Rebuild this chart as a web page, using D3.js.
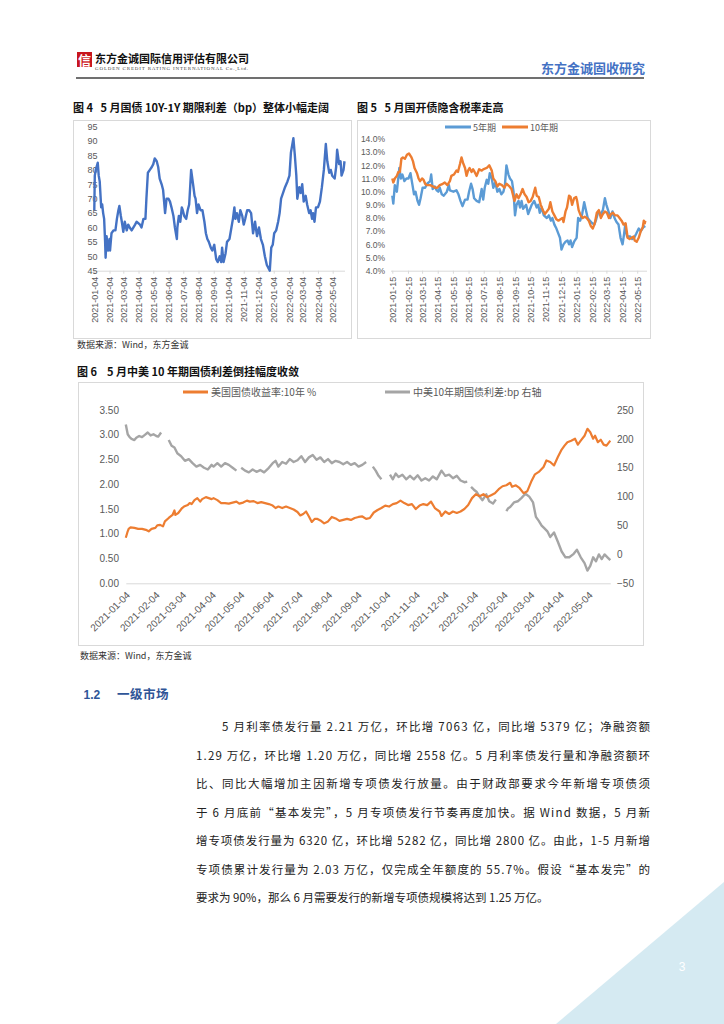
<!DOCTYPE html>
<html>
<head>
<meta charset="utf-8">
<script src="https://cdn.jsdelivr.net/npm/d3@7"></script>
<style>
body { margin: 0; background: #fff; }
text { font-family: "Liberation Sans", Arial, sans-serif; }
.cjk { font-family: "Noto Sans CJK SC", sans-serif; }
</style>
</head>
<body>
<div id="page"></div>
<script>
// ---- 图4 10Y-1Y 期限利差 (bp)
var termDates = ["2021-01-04","2021-01-05","2021-01-07","2021-01-11","2021-01-13","2021-01-15","2021-01-18","2021-01-20","2021-01-22","2021-01-24","2021-01-26","2021-01-27","2021-01-29",
  "2021-02-01","2021-02-04","2021-02-05","2021-02-08","2021-02-12","2021-02-16","2021-02-19","2021-02-22","2021-02-24","2021-02-27",
  "2021-03-01","2021-03-04","2021-03-07","2021-03-11","2021-03-14","2021-03-17","2021-03-21","2021-03-28","2021-03-31",
  "2021-04-07","2021-04-10","2021-04-14","2021-04-18","2021-04-20","2021-04-23","2021-04-27",
  "2021-05-01","2021-05-04","2021-05-07","2021-05-11","2021-05-14","2021-05-17","2021-05-21","2021-05-24","2021-05-28","2021-05-31",
  "2021-06-04","2021-06-07","2021-06-10","2021-06-14","2021-06-17","2021-06-21","2021-06-22","2021-06-25","2021-06-28",
  "2021-07-01","2021-07-03","2021-07-06","2021-07-10","2021-07-13","2021-07-16","2021-07-20","2021-07-24","2021-07-27","2021-07-29",
  "2021-08-01","2021-08-04","2021-08-08","2021-08-12","2021-08-16","2021-08-19","2021-08-22","2021-08-25","2021-08-29",
  "2021-09-01","2021-09-05","2021-09-09","2021-09-12","2021-09-16","2021-09-19","2021-09-21","2021-09-24","2021-09-28",
  "2021-10-01","2021-10-06","2021-10-10","2021-10-13","2021-10-16","2021-10-18","2021-10-21","2021-10-25","2021-10-28",
  "2021-11-01","2021-11-04","2021-11-07","2021-11-11","2021-11-15","2021-11-19","2021-11-23","2021-11-27",
  "2021-12-01","2021-12-05","2021-12-09","2021-12-13","2021-12-17","2021-12-21","2021-12-27","2021-12-30",
  "2022-01-02","2022-01-05","2022-01-09","2022-01-13","2022-01-16","2022-01-19","2022-01-23","2022-01-27",
  "2022-02-01","2022-02-05","2022-02-08","2022-02-13","2022-02-16","2022-02-19","2022-02-21","2022-02-25","2022-02-28",
  "2022-03-03","2022-03-06","2022-03-10","2022-03-13","2022-03-17","2022-03-20","2022-03-23","2022-03-25","2022-03-28","2022-03-31",
  "2022-04-04","2022-04-08","2022-04-12","2022-04-16","2022-04-20","2022-04-23","2022-04-27","2022-04-30",
  "2022-05-03","2022-05-08","2022-05-11","2022-05-13","2022-05-17","2022-05-20","2022-05-22","2022-05-26","2022-05-28"];
var termSpread = [66,78,80,82.5,78,76,67,68,65,63,55,49.5,57,
  52,56,52,58,59,59,63,66,67.5,64,
  62,58.5,62,59,61,60,59,61,62,
  61,60,63,63,70,79,80,
  81,82,84,83,81,77,75,73,65,70,
  70,69,67,64,60,56,60,64,62,
  67,66,64,63,66,68,80,75,71,70,
  65,68,66,66,62,58,56,55,53,
  52,54,49,48,50,48,53,48,51,
  55,56,60,63,67,63,65,62,66,
  64,61,63,66,66,65,58,62,
  57,60,56,54,50,47,45,53,
  54,58,59,62,65,70,72,74,
  76,78,86,91,85,78,70,74,72,
  75,69,71,68,65,66,63,65,62,67,
  67,69,74,80,89,83,79,80,
  78,77,81,87,82,83,78,80,83];
var termTicks = [45,50,55,60,65,70,75,80,85,90,95];

// ---- 图5 国开债隐含税率 (%)
var tax5Dates = ["2021-01-15","2021-01-17","2021-01-20","2021-01-24","2021-01-29","2021-02-01","2021-02-04","2021-02-08","2021-02-12","2021-02-16","2021-02-20","2021-02-24","2021-02-27",
  "2021-03-02","2021-03-06","2021-03-09","2021-03-12","2021-03-16","2021-03-21","2021-03-25","2021-03-31","2021-04-02","2021-04-05","2021-04-09","2021-04-13","2021-04-16","2021-04-19","2021-04-23","2021-04-27",
  "2021-05-03","2021-05-07","2021-05-09","2021-05-16","2021-05-22","2021-05-26","2021-05-30","2021-06-03","2021-06-08","2021-06-13","2021-06-16","2021-06-20","2021-06-23","2021-06-26",
  "2021-07-01","2021-07-06","2021-07-11","2021-07-14","2021-07-17","2021-07-21","2021-07-24","2021-07-27","2021-07-31","2021-08-03","2021-08-07","2021-08-11","2021-08-15","2021-08-19","2021-08-23","2021-08-26","2021-08-29",
  "2021-09-02","2021-09-05","2021-09-09","2021-09-12","2021-09-15","2021-09-18","2021-09-22","2021-09-25","2021-09-28","2021-10-01","2021-10-07","2021-10-11","2021-10-15","2021-10-18","2021-10-23","2021-10-28","2021-10-31",
  "2021-11-03","2021-11-07","2021-11-11","2021-11-17","2021-11-21","2021-11-25","2021-11-28","2021-12-02","2021-12-06","2021-12-10","2021-12-13","2021-12-16","2021-12-20","2021-12-24","2021-12-28","2021-12-31",
  "2022-01-03","2022-01-06","2022-01-10","2022-01-15","2022-01-18","2022-01-22","2022-01-26","2022-01-30","2022-02-03","2022-02-06","2022-02-10","2022-02-15","2022-02-19","2022-02-22","2022-02-27",
  "2022-03-04","2022-03-08","2022-03-12","2022-03-15","2022-03-19","2022-03-23","2022-03-27","2022-03-31","2022-04-04","2022-04-08","2022-04-12","2022-04-16","2022-04-19","2022-04-21","2022-04-25",
  "2022-05-01","2022-05-05","2022-05-09","2022-05-13","2022-05-18","2022-05-22","2022-05-27","2022-05-31"];
var tax5Values = [9.7,9.1,10.5,10.0,11.8,11.0,11.3,10.8,11.0,11.0,11.4,10.5,9.8,
  10.0,9.3,9.0,9.5,10.3,10.3,10.6,10.8,11.3,10.2,10.4,10.1,10.0,10.3,9.8,9.7,
  10.0,10.5,10.1,10.0,10.1,9.8,9.3,8.9,9.4,9.4,10.0,10.6,10.2,9.5,
  9.3,9.2,10.2,9.4,10.3,10.9,10.6,11.4,11.0,10.3,10.7,10.0,10.2,9.8,10.0,10.5,12.0,
  11.3,11.0,10.8,10.0,8.2,9.0,9.3,8.8,9.3,8.7,9.0,8.3,8.7,9.0,9.3,8.8,9.0,
  8.4,8.8,8.2,8.0,8.2,7.8,8.0,7.5,7.2,6.8,6.5,5.6,6.0,6.2,6.3,6.0,
  6.3,5.8,6.2,6.5,8.0,7.8,8.3,9.2,8.5,8.0,7.8,7.6,7.5,7.8,8.5,
  8.3,8.6,9.5,9.0,8.5,8.0,8.5,8.0,7.7,7.5,6.5,6.0,6.8,7.4,6.6,
  6.6,6.4,6.5,6.8,7.2,7.0,7.3,7.4];
var tax10Dates = ["2021-01-15","2021-01-17","2021-01-20","2021-01-24","2021-01-27","2021-01-30","2021-02-02","2021-02-05","2021-02-09","2021-02-13","2021-02-17","2021-02-22","2021-02-25","2021-02-28",
  "2021-03-05","2021-03-08","2021-03-11","2021-03-15","2021-03-18","2021-03-21","2021-03-24","2021-03-31","2021-04-05","2021-04-10","2021-04-14","2021-04-19","2021-04-25","2021-04-29",
  "2021-05-04","2021-05-09","2021-05-12","2021-05-17","2021-05-22","2021-05-25","2021-05-29","2021-06-01","2021-06-04","2021-06-08","2021-06-11","2021-06-14","2021-06-17","2021-06-21","2021-06-24","2021-06-27",
  "2021-07-01","2021-07-06","2021-07-11","2021-07-14","2021-07-21","2021-07-26","2021-07-31","2021-08-03","2021-08-07","2021-08-11","2021-08-15","2021-08-20","2021-08-25","2021-08-29",
  "2021-09-04","2021-09-08","2021-09-12","2021-09-14","2021-09-18","2021-09-22","2021-09-26","2021-09-30","2021-10-04","2021-10-08","2021-10-12","2021-10-16","2021-10-20","2021-10-25","2021-10-28",
  "2021-11-01","2021-11-05","2021-11-09","2021-11-13","2021-11-17","2021-11-21","2021-11-24","2021-11-28","2021-12-02","2021-12-06","2021-12-10","2021-12-14","2021-12-18","2021-12-20","2021-12-24","2021-12-27","2021-12-31",
  "2022-01-03","2022-01-06","2022-01-10","2022-01-14","2022-01-16","2022-01-19","2022-01-23","2022-01-27","2022-01-31","2022-02-04","2022-02-08","2022-02-12","2022-02-16","2022-02-20","2022-02-24","2022-02-28",
  "2022-03-04","2022-03-08","2022-03-12","2022-03-16","2022-03-20","2022-03-24","2022-03-28","2022-04-01","2022-04-06","2022-04-10","2022-04-14","2022-04-18","2022-04-22","2022-04-26","2022-04-30",
  "2022-05-04","2022-05-08","2022-05-10","2022-05-14","2022-05-18","2022-05-22","2022-05-26","2022-05-28","2022-05-30","2022-05-31"];
var tax10Values = [11.0,10.7,11.0,11.2,11.5,11.5,12.5,12.6,12.5,12.8,12.9,12.6,12.3,11.8,
  11.4,11.0,10.8,11.0,10.9,10.6,10.5,10.5,10.4,10.3,10.3,10.5,10.6,10.7,
  10.5,10.8,11.2,11.3,11.6,11.5,12.1,12.6,12.2,11.8,11.2,11.6,11.8,11.5,11.7,11.5,
  11.2,11.7,11.6,11.7,11.8,12.0,11.6,11.0,10.8,10.4,10.6,10.5,10.3,10.6,
  10.4,10.2,9.6,9.3,9.8,9.5,9.8,10.2,9.8,9.6,9.2,9.3,9.6,10.3,9.7,
  9.6,9.0,8.6,8.3,8.5,8.7,9.2,8.5,8.2,7.9,7.8,7.9,8.0,7.7,8.5,8.8,9.7,
  9.6,9.0,9.5,9.6,9.3,8.6,8.2,8.0,8.1,8.0,7.8,7.4,7.2,7.6,8.4,8.6,
  8.0,8.3,8.5,8.4,8.0,8.3,8.4,8.2,8.2,8.0,7.8,7.5,7.6,6.5,6.4,
  6.5,6.6,6.3,6.2,6.5,7.0,7.3,7.8,7.6,7.8];
var taxTicks = [4,5,6,7,8,9,10,11,12,13,14];

// ---- 图6 美国国债收益率:10年 (%) 与 中美10年期国债利差 (bp)
var usDates = ["2021-01-04","2021-01-06","2021-01-07","2021-01-09","2021-01-13","2021-01-17","2021-01-21","2021-01-25","2021-01-28","2021-01-31",
  "2021-02-04","2021-02-06","2021-02-09","2021-02-12","2021-02-14","2021-02-18","2021-02-22","2021-02-24","2021-02-25","2021-02-28",
  "2021-03-04","2021-03-06","2021-03-10","2021-03-12","2021-03-14","2021-03-17","2021-03-20","2021-03-23","2021-03-25","2021-03-29",
  "2021-04-01","2021-04-04","2021-04-06","2021-04-10","2021-04-14","2021-04-18","2021-04-22","2021-04-26","2021-04-30",
  "2021-05-03","2021-05-07","2021-05-11","2021-05-14","2021-05-18","2021-05-22","2021-05-26","2021-05-30",
  "2021-06-03","2021-06-07","2021-06-10","2021-06-13","2021-06-17","2021-06-21","2021-06-25","2021-06-29",
  "2021-07-03","2021-07-06","2021-07-09","2021-07-12","2021-07-15","2021-07-18","2021-07-21","2021-07-24","2021-07-27","2021-07-31",
  "2021-08-04","2021-08-08","2021-08-12","2021-08-16","2021-08-20","2021-08-24","2021-08-28",
  "2021-09-01","2021-09-05","2021-09-09","2021-09-13","2021-09-17","2021-09-21","2021-09-25","2021-09-29",
  "2021-10-03","2021-10-07","2021-10-11","2021-10-15","2021-10-19","2021-10-23","2021-10-27","2021-10-31",
  "2021-11-04","2021-11-08","2021-11-12","2021-11-16","2021-11-20","2021-11-24","2021-11-29",
  "2021-12-01","2021-12-05","2021-12-09","2021-12-13","2021-12-17","2021-12-21","2021-12-25","2021-12-29",
  "2022-01-02","2022-01-06","2022-01-10","2022-01-14","2022-01-18","2022-01-22","2022-01-26","2022-01-30",
  "2022-02-03","2022-02-07","2022-02-11","2022-02-13","2022-02-17","2022-02-21","2022-02-25",
  "2022-03-01","2022-03-05","2022-03-09","2022-03-13","2022-03-18","2022-03-21","2022-03-25","2022-03-29",
  "2022-04-02","2022-04-06","2022-04-09","2022-04-12","2022-04-16","2022-04-20","2022-04-23","2022-04-26","2022-04-30",
  "2022-05-03","2022-05-06","2022-05-09","2022-05-11","2022-05-14","2022-05-17","2022-05-20","2022-05-23","2022-05-27"];
var usYield = [0.92,1.05,1.10,1.13,1.12,1.10,1.10,1.08,1.05,1.10,
  1.12,1.17,1.18,1.15,1.25,1.32,1.38,1.47,1.38,1.42,
  1.52,1.55,1.58,1.62,1.60,1.68,1.72,1.65,1.70,1.74,
  1.72,1.70,1.72,1.68,1.62,1.62,1.61,1.63,1.65,
  1.61,1.63,1.67,1.65,1.66,1.62,1.64,1.62,
  1.60,1.57,1.52,1.55,1.52,1.55,1.52,1.49,
  1.44,1.37,1.40,1.45,1.35,1.24,1.30,1.30,1.27,1.21,
  1.25,1.34,1.31,1.26,1.28,1.30,1.28,
  1.32,1.34,1.35,1.30,1.32,1.43,1.48,1.52,
  1.57,1.55,1.60,1.62,1.67,1.62,1.58,1.60,
  1.50,1.57,1.60,1.58,1.65,1.52,1.45,
  1.36,1.45,1.40,1.45,1.42,1.45,1.50,1.58,
  1.72,1.80,1.76,1.80,1.74,1.78,1.82,1.90,
  1.96,1.98,2.03,1.95,1.98,1.92,1.82,
  1.86,2.05,2.20,2.25,2.35,2.48,2.45,2.38,
  2.55,2.70,2.78,2.85,2.88,2.92,2.80,2.88,2.98,
  3.12,3.05,2.92,2.98,2.85,2.90,2.80,2.78,2.88];
var cnUsDates = ["2021-01-04","2021-01-06","2021-01-08","2021-01-10","2021-01-13","2021-01-15","2021-01-18","2021-01-21","2021-01-24","2021-01-27","2021-01-30",
  "2021-02-02","2021-02-05","2021-02-07","2021-02-10","2021-02-13","2021-02-18","2021-02-21","2021-02-24","2021-02-27",
  "2021-03-03","2021-03-07","2021-03-11","2021-03-15","2021-03-19","2021-03-23","2021-03-27","2021-03-31",
  "2021-04-04","2021-04-06","2021-04-10","2021-04-14","2021-04-18","2021-04-22","2021-04-26","2021-04-30",
  "2021-05-02","2021-05-05","2021-05-09","2021-05-13","2021-05-17","2021-05-21","2021-05-25","2021-05-29",
  "2021-06-03","2021-06-07","2021-06-10","2021-06-13","2021-06-17","2021-06-21","2021-06-25","2021-06-29",
  "2021-07-03","2021-07-07","2021-07-11","2021-07-15","2021-07-19","2021-07-23","2021-07-27","2021-07-31",
  "2021-08-04","2021-08-08","2021-08-12","2021-08-16","2021-08-20","2021-08-24","2021-08-28",
  "2021-09-01","2021-09-05","2021-09-09","2021-09-13","2021-09-16","2021-09-20","2021-09-23","2021-09-26","2021-09-29",
  "2021-10-02","2021-10-08","2021-10-11","2021-10-14","2021-10-17","2021-10-21","2021-10-25","2021-10-29",
  "2021-11-02","2021-11-06","2021-11-10","2021-11-14","2021-11-18","2021-11-22","2021-11-26",
  "2021-12-01","2021-12-05","2021-12-09","2021-12-13","2021-12-17","2021-12-21","2021-12-25","2021-12-28","2021-12-30",
  "2022-01-01","2022-01-04","2022-01-07","2022-01-10","2022-01-13","2022-01-17","2022-01-20","2022-01-24","2022-01-27","2022-01-30",
  "2022-02-07","2022-02-09","2022-02-11","2022-02-15","2022-02-19","2022-02-23","2022-02-27",
  "2022-03-03","2022-03-07","2022-03-10","2022-03-13","2022-03-16","2022-03-19","2022-03-22","2022-03-25","2022-03-29",
  "2022-04-02","2022-04-06","2022-04-10","2022-04-14","2022-04-18","2022-04-22","2022-04-26","2022-04-30",
  "2022-05-03","2022-05-06","2022-05-09","2022-05-12","2022-05-15","2022-05-18","2022-05-21","2022-05-24","2022-05-27"];
var cnUsSpread = [225,208,203,200,198,202,205,203,207,211,206,
  208,205,204,211,null,198,188,185,175,
  170,162,165,158,152,155,150,147,
  155,152,158,152,158,155,150,145,
  null,150,145,142,147,143,146,142,
  150,158,162,152,160,157,165,160,
  163,170,160,168,172,164,168,160,
  165,158,162,160,156,160,155,
  158,152,155,160,null,152,145,136,130,
  null,138,130,140,134,138,130,136,
  130,137,128,132,128,135,130,
  145,136,138,132,136,128,125,126,null,
  117,112,108,100,94,104,92,88,95,null,
  75,80,82,90,92,98,105,
  100,90,65,58,50,45,40,30,38,
  22,5,-5,-5,0,8,-5,-15,
  -28,-20,-5,-12,0,-8,0,-5,-10];
var usTicks = [0,0.5,1,1.5,2,2.5,3,3.5];
var spreadTicks = [-50,0,50,100,150,200,250];

// 坐标轴日期刻度
var ticks04 = ["2021-01-04","2021-02-04","2021-03-04","2021-04-04","2021-05-04","2021-06-04","2021-07-04","2021-08-04","2021-09-04",
  "2021-10-04","2021-11-04","2021-12-04","2022-01-04","2022-02-04","2022-03-04","2022-04-04","2022-05-04"];
var ticks15 = ["2021-01-15","2021-02-15","2021-03-15","2021-04-15","2021-05-15","2021-06-15","2021-07-15","2021-08-15","2021-09-15",
  "2021-10-15","2021-11-15","2021-12-15","2022-01-15","2022-02-15","2022-03-15","2022-04-15","2022-05-15"];

var bodyLines = [
  "5 月利率债发行量 2.21 万亿，环比增 7063 亿，同比增 5379 亿；净融资额",
  "1.29 万亿，环比增 1.20 万亿，同比增 2558 亿。5 月利率债发行量和净融资额环",
  "比、同比大幅增加主因新增专项债发行放量。由于财政部要求今年新增专项债须",
  "于 6 月底前“基本发完”，5 月专项债发行节奏再度加快。据 Wind 数据，5 月新",
  "增专项债发行量为 6320 亿，环比增 5282 亿，同比增 2800 亿。由此，1-5 月新增",
  "专项债累计发行量为 2.03 万亿，仅完成全年额度的 55.7%。假设“基本发完”的",
  "要求为 90%，那么 6 月需要发行的新增专项债规模将达到 1.25 万亿。"
];

var parse = d3.timeParse("%Y-%m-%d");
var fmtDate = d3.timeFormat("%Y-%m-%d");
function pts(dates, vals) {
    return dates.map(function (d, i) { return { date: parse(d), value: vals[i] }; });
}

var svg = d3.select("#page").append("svg")
    .attr("width", 724)
    .attr("height", 1024);

svg.append("rect").attr("width", 724).attr("height", 1024).attr("fill", "#fff");

// header
svg.append("rect").attr("x", 77).attr("y", 52).attr("width", 15).attr("height", 15).attr("fill", "#c8161d");
svg.append("text").attr("class", "cjk").attr("x", 84.5).attr("y", 64.5)
    .attr("text-anchor", "middle").attr("font-size", 13).attr("font-weight", "bold")
    .attr("fill", "#fff").text("信");
svg.append("text").attr("class", "cjk").attr("x", 95).attr("y", 63)
    .attr("font-size", 11).attr("font-weight", "bold").attr("fill", "#111")
    .attr("textLength", 154).text("东方金诚国际信用评估有限公司");
svg.append("text").attr("x", 95).attr("y", 69.5)
    .style("font-family", "'Liberation Serif', serif").attr("font-size", 5).attr("fill", "#444")
    .attr("textLength", 153).text("GOLDEN CREDIT RATING INTERNATIONAL Co.,Ltd.");
svg.append("text").attr("class", "cjk").attr("x", 645).attr("y", 73)
    .attr("text-anchor", "end").attr("font-size", 13).attr("font-weight", "bold")
    .attr("fill", "#4472c4").text("东方金诚固收研究");
svg.append("line").attr("x1", 76).attr("x2", 644).attr("y1", 78).attr("y2", 78)
    .attr("stroke", "#404040").attr("stroke-width", 1.5);

function frame(x0, y0, x1, y1) {
    svg.append("rect").attr("x", x0 + 0.5).attr("y", y0 + 0.5)
        .attr("width", x1 - x0).attr("height", y1 - y0)
        .attr("fill", "none").attr("stroke", "#d9d9d9").attr("stroke-width", 1);
}
function title(x, y, s) {
    svg.append("text").attr("class", "cjk").attr("x", x).attr("y", y)
        .attr("font-size", 11).attr("font-weight", "bold").attr("fill", "#111")
        .text(s);
}
function source(x, y) {
    svg.append("text").attr("class", "cjk").attr("x", x).attr("y", y)
        .attr("font-size", 9).attr("fill", "#333").text("数据来源：Wind，东方金诚");
}
function styleAxis(g, size) {
    g.selectAll(".domain").attr("stroke", "#d9d9d9");
    g.selectAll(".tick line").attr("stroke", "#d9d9d9");
    g.selectAll("text").attr("fill", "#595959").attr("font-size", size)
        .style("font-family", "'Liberation Sans', Arial, sans-serif");
}
function verticalLabels(g) {
    g.selectAll(".tick text")
        .attr("transform", "rotate(-90)")
        .attr("text-anchor", "end")
        .attr("x", -6).attr("y", 0).attr("dy", "0.35em");
}

// ---------- 图4 ----------
title(73, 111.5, "图 4\u00a0\u00a0 5 月国债 10Y-1Y 期限利差（bp）整体小幅走阔");
frame(73, 120, 351, 338);

var x4 = d3.scaleTime().domain([parse("2021-01-04"), parse("2022-05-28")]).range([94.3, 344.5]);
var y4 = d3.scaleLinear().domain([45, 95]).range([270.7, 126.7]);

var ax4 = svg.append("g").attr("transform", "translate(0,270.7)")
    .call(d3.axisBottom(x4).tickValues(ticks04.map(parse)).tickSize(3).tickSizeOuter(0).tickFormat(fmtDate));
styleAxis(ax4, 9);
verticalLabels(ax4);

var ay4 = svg.append("g").attr("transform", "translate(100,0)")
    .call(d3.axisLeft(y4).tickValues(termTicks).tickSize(0).tickPadding(2.5));
ay4.select(".domain").remove();
styleAxis(ay4, 9);

svg.append("path").datum(pts(termDates, termSpread))
    .attr("fill", "none").attr("stroke", "#4472c4").attr("stroke-width", 2.4)
    .attr("stroke-linejoin", "round")
    .attr("d", d3.line().x(d => x4(d.date)).y(d => y4(d.value)));

source(77, 347.5);

// ---------- 图5 ----------
title(357, 111.5, "图 5\u00a0\u00a0 5 月国开债隐含税率走高");
frame(357, 120, 650, 338);

var x5 = d3.scaleTime().domain([parse("2021-01-15"), parse("2022-05-31")]).range([392.3, 645.3]);
var y5 = d3.scaleLinear().domain([4, 14]).range([270.7, 139]);

var ax5 = svg.append("g").attr("transform", "translate(0,270.7)")
    .call(d3.axisBottom(x5).tickValues(ticks15.map(parse)).tickSize(3).tickSizeOuter(0).tickFormat(fmtDate));
ax5.select(".domain").attr("d", "M391,0.5H647");
styleAxis(ax5, 9);
verticalLabels(ax5);

var ay5 = svg.append("g").attr("transform", "translate(388,0)")
    .call(d3.axisLeft(y5).tickValues(taxTicks).tickSize(0).tickPadding(3).tickFormat(d => d.toFixed(1) + "%"));
ay5.select(".domain").remove();
styleAxis(ay5, 8.5);

var line5 = d3.line().x(d => x5(d.date)).y(d => y5(d.value));
svg.append("path").datum(pts(tax5Dates, tax5Values))
    .attr("fill", "none").attr("stroke", "#5b9bd5").attr("stroke-width", 2.4)
    .attr("stroke-linejoin", "round").attr("d", line5);
svg.append("path").datum(pts(tax10Dates, tax10Values))
    .attr("fill", "none").attr("stroke", "#ed7d31").attr("stroke-width", 2.4)
    .attr("stroke-linejoin", "round").attr("d", line5);

var leg5 = [["5年期", "#5b9bd5", 445], ["10年期", "#ed7d31", 502]];
leg5.forEach(function (l) {
    svg.append("line").attr("x1", l[2]).attr("x2", l[2] + 26).attr("y1", 127).attr("y2", 127)
        .attr("stroke", l[1]).attr("stroke-width", 3);
    svg.append("text").attr("class", "cjk").attr("x", l[2] + 28).attr("y", 130.5)
        .attr("font-size", 9).attr("fill", "#595959").text(l[0]);
});

// ---------- 图6 ----------
title(77, 376, "图 6\u00a0\u00a0\u00a0 5 月中美 10 年期国债利差倒挂幅度收敛");
frame(78, 382, 643, 645);

var x6 = d3.scaleTime().domain([parse("2021-01-04"), parse("2022-05-27")]).range([125.8, 610.3]);
var y6L = d3.scaleLinear().domain([0, 3.5]).range([583.3, 410]);
var y6R = d3.scaleLinear().domain([-50, 250]).range([583.3, 410]);

var ax6 = svg.append("g").attr("transform", "translate(0,583.3)")
    .call(d3.axisBottom(x6).tickValues(ticks04.map(parse)).tickSize(0).tickSizeOuter(0).tickFormat(fmtDate));
styleAxis(ax6, 10);
ax6.selectAll(".tick text")
    .attr("x", 0).attr("y", 0).attr("dy", "0.35em")
    .attr("text-anchor", "end")
    .attr("transform", "translate(2,10) rotate(-45)");

var ay6L = svg.append("g").attr("transform", "translate(122,0)")
    .call(d3.axisLeft(y6L).tickValues(usTicks).tickSize(0).tickPadding(3).tickFormat(d3.format(".2f")));
ay6L.select(".domain").remove();
styleAxis(ay6L, 10);

var ay6R = svg.append("g").attr("transform", "translate(614,0)")
    .call(d3.axisRight(y6R).tickValues(spreadTicks).tickSize(0).tickPadding(3));
ay6R.select(".domain").remove();
styleAxis(ay6R, 10);

svg.append("path").datum(pts(cnUsDates, cnUsSpread))
    .attr("fill", "none").attr("stroke", "#a5a5a5").attr("stroke-width", 2.4)
    .attr("stroke-linejoin", "round")
    .attr("d", d3.line().defined(d => d.value !== null).x(d => x6(d.date)).y(d => y6R(d.value)));
svg.append("path").datum(pts(usDates, usYield))
    .attr("fill", "none").attr("stroke", "#ed7d31").attr("stroke-width", 2.2)
    .attr("stroke-linejoin", "round")
    .attr("d", d3.line().x(d => x6(d.date)).y(d => y6L(d.value)));

var leg6 = [["美国国债收益率:10年 %", "#ed7d31", 183], ["中美10年期国债利差:bp 右轴", "#a5a5a5", 385]];
leg6.forEach(function (l) {
    svg.append("line").attr("x1", l[2]).attr("x2", l[2] + 25).attr("y1", 392).attr("y2", 392)
        .attr("stroke", l[1]).attr("stroke-width", 3);
    svg.append("text").attr("class", "cjk").attr("x", l[2] + 28).attr("y", 395.5)
        .attr("font-size", 10).attr("fill", "#595959").text(l[0]);
});

source(80, 659);

// ---------- 1.2 一级市场 ----------
svg.append("text").attr("x", 83.5).attr("y", 699)
    .attr("font-size", 12).attr("font-weight", "bold").attr("fill", "#2f5597").text("1.2");
svg.append("text").attr("class", "cjk").attr("x", 117).attr("y", 699)
    .attr("font-size", 12.5).attr("font-weight", "bold").attr("fill", "#2f5597")
    .attr("letter-spacing", 0.5).text("一级市场");

bodyLines.forEach(function (s, i) {
    var x0 = i === 0 ? 222 : 196;
    var t = svg.append("text").attr("class", "cjk").attr("x", x0).attr("y", 731 + i * 28.5)
        .attr("font-size", 11.5).attr("fill", "#222").text(s);
    if (i < bodyLines.length - 1) t.attr("textLength", 650 - x0).attr("lengthAdjust", "spacing");
});

// page corner
svg.append("path").attr("d", "M724,882L556,1024L724,1024Z").attr("fill", "#d5eaf2");
svg.append("text").attr("x", 682).attr("y", 971).attr("text-anchor", "middle")
    .attr("font-size", 12).attr("fill", "#fff").text("3");
</script>
</body>
</html>
